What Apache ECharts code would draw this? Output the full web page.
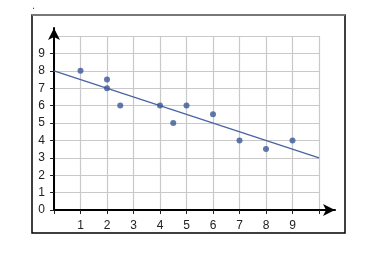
<!DOCTYPE html>
<html>
<head>
<meta charset="utf-8">
<script src="https://cdn.jsdelivr.net/npm/echarts@6/dist/echarts.min.js"></script>
<style>
html,body{margin:0;padding:0;background:#fff;}
#c{width:389px;height:256px;}
</style>
</head>
<body>
<div id="c"></div>
<script>
var pointsX = [1, 2, 2, 2.5, 4, 4.5, 5, 6, 7, 8, 9];
var pointsY = [8, 7.5, 7, 6, 6, 5, 6, 5.5, 4, 3.5, 4];
var fitX = [0, 10];
var fitY = [8, 3];
var xTicks = [1, 2, 3, 4, 5, 6, 7, 8, 9];
var yTicks = [0, 1, 2, 3, 4, 5, 6, 7, 8, 9];

var chart = echarts.init(document.getElementById('c'), null, {renderer: 'canvas'});
var font = 'Liberation Sans, Arial, sans-serif';
var option = {
  animation: false,
  graphic: [
    {type: 'rect', shape: {x: 32, y: 15, width: 313, height: 218}, style: {fill: 'none', stroke: '#000', lineWidth: 1.5}, z: 0},
    {type: 'line', shape: {x1: 32, y1: 15, x2: 345, y2: 15}, style: {stroke: '#777', lineWidth: 2}, z: 1},
    {type: 'text', left: 32, top: 0, style: {text: '.', fontSize: 11, fill: '#444'}}
  ],
  grid: [
    {left: 54, right: 70, top: 36, bottom: 46},
    {left: 54, right: 54, top: 28, bottom: 46}
  ],
  xAxis: [
    {
      gridIndex: 0, type: 'value', min: 0, max: 10, interval: 1,
      axisLine: {show: false},
      axisTick: {show: true, length: 4, lineStyle: {color: '#222', width: 1}},
      axisLabel: {
        margin: 10, color: '#222', fontSize: 12, fontFamily: font,
        formatter: function (v) { return xTicks.indexOf(v) >= 0 ? String(v) : ''; }
      },
      splitLine: {show: true, lineStyle: {color: '#c9c9c9', width: 1.2}}
    },
    {
      gridIndex: 1, type: 'value', min: 0, max: 1,
      axisLine: {show: true, symbol: ['none', 'arrow'], symbolSize: [9, 12], lineStyle: {color: '#000', width: 2}},
      axisTick: {show: false}, axisLabel: {show: false}, splitLine: {show: false}
    }
  ],
  yAxis: [
    {
      gridIndex: 0, type: 'value', min: 0, max: 10, interval: 1,
      axisLine: {show: false},
      axisTick: {show: true, length: 4, lineStyle: {color: '#222', width: 1}},
      axisLabel: {
        margin: 9, color: '#222', fontSize: 12, fontFamily: font,
        formatter: function (v) { return yTicks.indexOf(v) >= 0 ? String(v) : ''; }
      },
      splitLine: {show: true, lineStyle: {color: '#c9c9c9', width: 1.2}}
    },
    {
      gridIndex: 1, type: 'value', min: 0, max: 1,
      axisLine: {show: true, symbol: ['none', 'arrow'], symbolSize: [9, 12], lineStyle: {color: '#000', width: 2}},
      axisTick: {show: false}, axisLabel: {show: false}, splitLine: {show: false}
    }
  ],
  series: [
    {
      type: 'line', xAxisIndex: 0, yAxisIndex: 0,
      data: fitX.map(function (x, i) { return [x, fitY[i]]; }),
      showSymbol: false, symbol: 'none',
      lineStyle: {color: '#4a63a6', width: 1.3}, z: 3
    },
    {
      type: 'scatter', xAxisIndex: 0, yAxisIndex: 0,
      data: pointsX.map(function (x, i) { return [x, pointsY[i]]; }),
      symbolSize: 6,
      itemStyle: {color: '#3a5797'}, z: 4
    }
  ]
};
chart.setOption(option);
</script>
</body>
</html>
